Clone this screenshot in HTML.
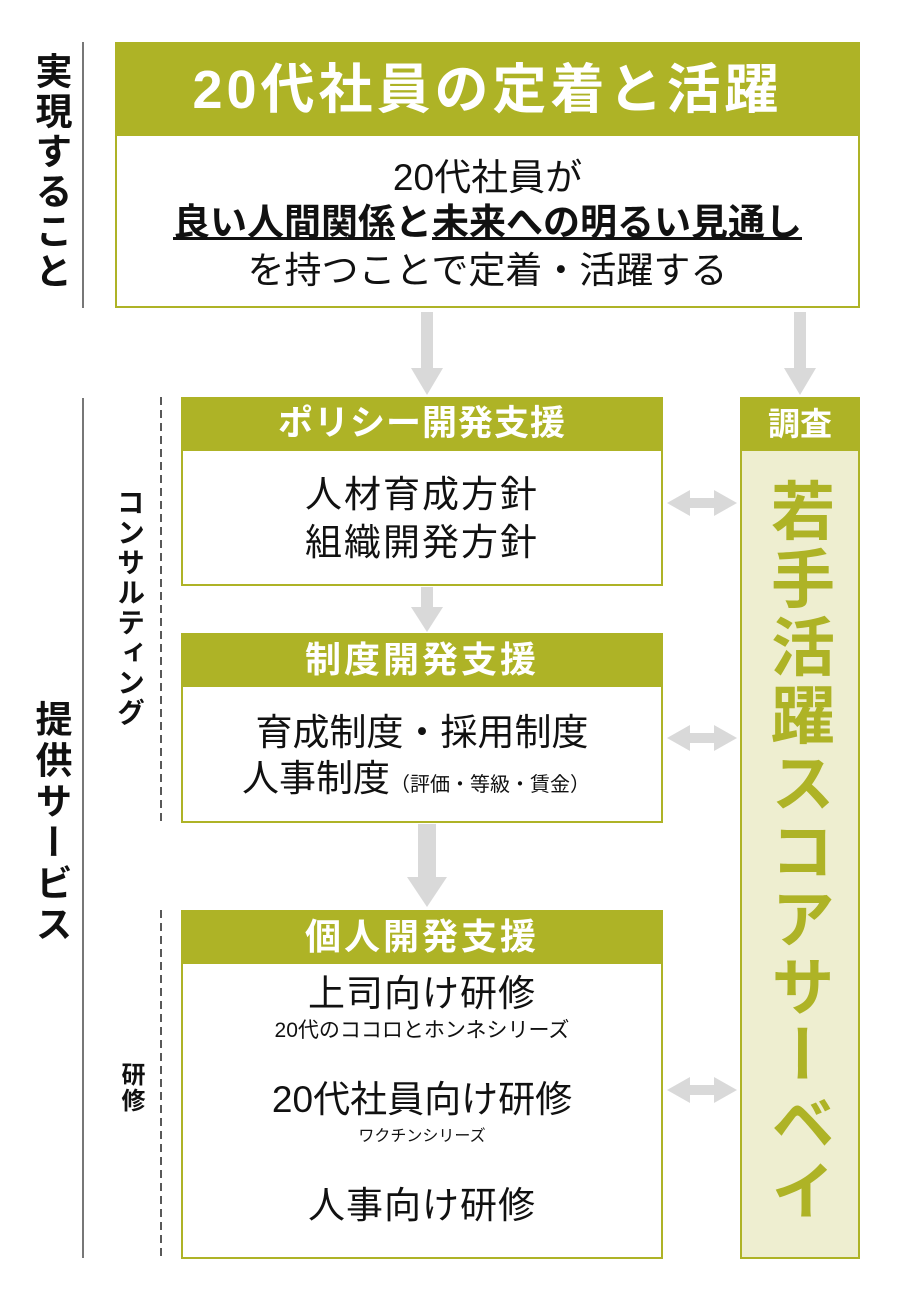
<!DOCTYPE html>
<html><head><meta charset="utf-8"><style>
body{margin:0;width:900px;height:1300px;background:#fff;position:relative;font-family:"Liberation Sans","Noto Sans CJK JP",sans-serif;color:#111;overflow:hidden}
div{position:absolute;box-sizing:border-box}
.hd{background:#AEB326;color:#fff;font-weight:bold;text-align:center;white-space:nowrap}
.bd{background:#fff;border:2px solid #AEB326;border-top:none;text-align:center}
.v{writing-mode:vertical-rl;text-orientation:upright;font-weight:bold}
.t{left:0;right:0;text-align:center;white-space:nowrap}
.b{font-size:37px;line-height:46px}
</style></head><body>
<div class="v" style="left:30px;top:52px;font-size:37px;line-height:40px;letter-spacing:3px">実現すること</div>
<div style="left:82px;top:42px;width:2px;height:266px;background:#777"></div>
<div class="hd" style="left:115px;top:42px;width:745px;height:94px;font-size:54px;line-height:96px;letter-spacing:4px">20代社員の定着と活躍</div>
<div class="bd" style="left:115px;top:136px;width:745px;height:172px">
<div class="t b" style="top:19px">20代社員が</div>
<div class="t b" style="top:64px;font-weight:bold"><u>良い人間関係</u>と<u>未来への明るい見通し</u></div>
<div class="t b" style="top:112px">を持つことで定着・活躍する</div>
</div>
<svg style="position:absolute;left:0;top:0" width="900" height="1300">
<g fill="#d9d9d9">
<rect x="421" y="312" width="12" height="58"/><polygon points="411,368 443,368 427,395"/>
<rect x="794" y="312" width="12" height="58"/><polygon points="784,368 816,368 800,395"/>
<rect x="421" y="587" width="12" height="22"/><polygon points="411,607 443,607 427,632"/>
<rect x="418" y="824" width="18" height="55"/><polygon points="407,877 447,877 427,907"/>
<g id="da"><rect x="685" y="498" width="34" height="10"/><polygon points="667,503 690,490 690,516"/><polygon points="737,503 714,490 714,516"/></g>
<use href="#da" y="235"/><use href="#da" y="587"/>
</g>
<line x1="161" y1="397" x2="161" y2="822" stroke="#222" stroke-width="1.5" stroke-dasharray="8,5"/>
<line x1="161" y1="910" x2="161" y2="1258" stroke="#222" stroke-width="1.5" stroke-dasharray="8,5"/>
</svg>
<div style="left:82px;top:398px;width:2px;height:860px;background:#777"></div>
<div class="v" style="left:30px;top:700px;font-size:37px;line-height:40px;letter-spacing:4px">提供サービス</div>
<div class="v" style="left:114px;top:488px;font-size:28px;line-height:30px;letter-spacing:2px">コンサルティング</div>
<div class="v" style="left:117px;top:1062px;font-size:24px;line-height:26px;letter-spacing:2px">研修</div>

<div class="hd" style="left:181px;top:397px;width:482px;height:54px;font-size:35px;line-height:54px;letter-spacing:1px">ポリシー開発支援</div>
<div class="bd" style="left:181px;top:451px;width:482px;height:135px">
<div class="t" style="top:20px;font-size:37px;line-height:48px;letter-spacing:2px">人材育成方針</div>
<div class="t" style="top:68px;font-size:37px;line-height:48px;letter-spacing:2px">組織開発方針</div>
</div>
<div class="hd" style="left:181px;top:633px;width:482px;height:54px;font-size:36px;line-height:54px;letter-spacing:3px">制度開発支援</div>
<div class="bd" style="left:181px;top:687px;width:482px;height:136px">
<div class="t" style="top:22px;font-size:37px;line-height:48px">育成制度・採用制度</div>
<div class="t" style="top:68px;font-size:37px;line-height:48px;left:-12px">人事制度<span style="font-size:20px">（評価・等級・賃金）</span></div>
</div>
<div class="hd" style="left:181px;top:910px;width:482px;height:54px;font-size:36px;line-height:54px;letter-spacing:3px">個人開発支援</div>
<div class="bd" style="left:181px;top:964px;width:482px;height:295px">
<div class="t" style="top:6px;font-size:37px;line-height:48px;letter-spacing:1px">上司向け研修</div>
<div class="t" style="top:54px;font-size:21px;line-height:26px">20代のココロとホンネシリーズ</div>
<div class="t" style="top:112px;font-size:37px;line-height:48px">20代社員向け研修</div>
<div class="t" style="top:162px;font-size:16px;line-height:22px">ワクチンシリーズ</div>
<div class="t" style="top:218px;font-size:37px;line-height:48px;letter-spacing:1px">人事向け研修</div>
</div>
<div class="hd" style="left:740px;top:397px;width:120px;height:54px;font-size:32px;line-height:54px">調査</div>
<div style="left:740px;top:451px;width:120px;height:808px;background:#EEEED0;border:2px solid #AEB326;border-top:none"></div>
<div class="v" style="left:763px;top:478px;font-size:64px;line-height:70px;letter-spacing:4px;color:#AEB326">若手活躍スコアサーベイ</div>
</body></html>
